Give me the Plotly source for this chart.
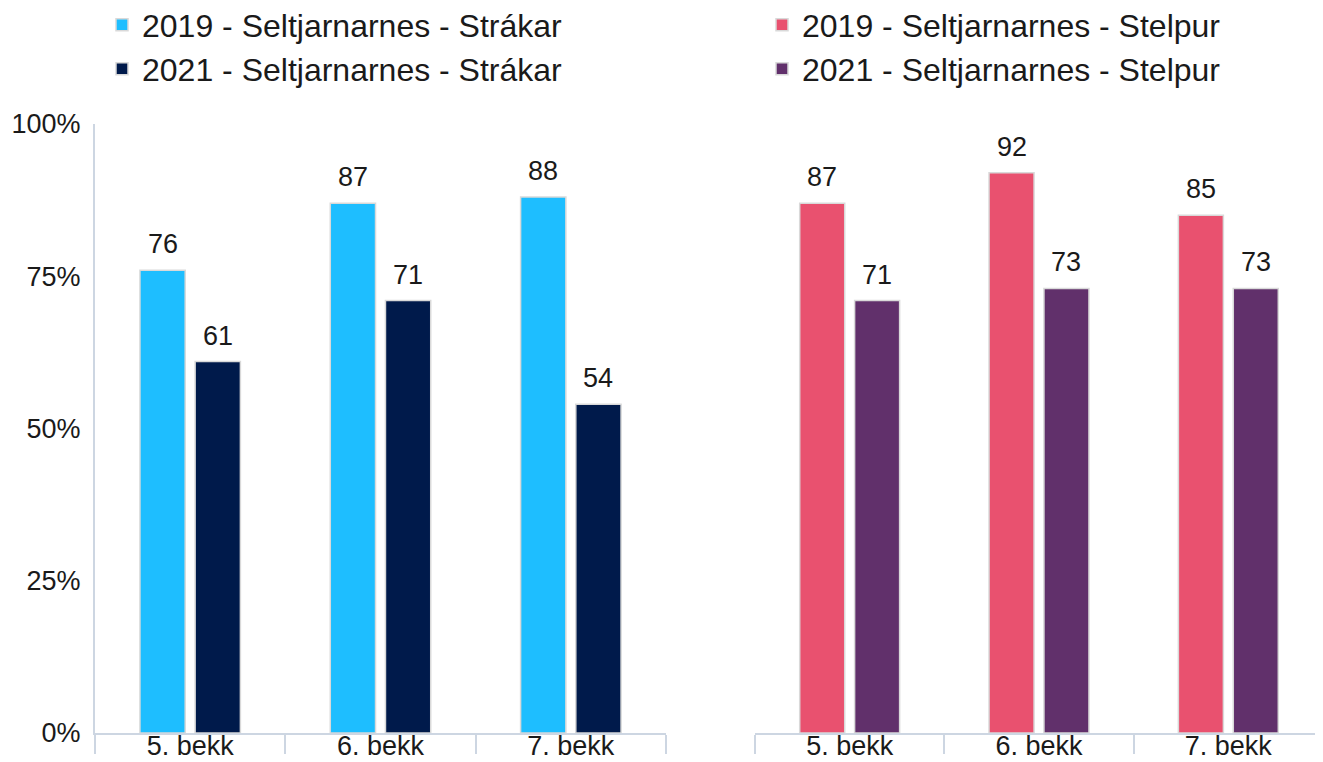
import plotly.graph_objects as go

categories = ["5. bekk", "6. bekk", "7. bekk"]
boys_2019 = [76, 87, 88]
boys_2021 = [61, 71, 54]
girls_2019 = [87, 92, 85]
girls_2021 = [71, 73, 73]
y_ticks = [0, 25, 50, 75, 100]
y_tick_labels = ["0%", "25%", "50%", "75%", "100%"]

names = [
    "2019 - Seltjarnarnes - Strákar",
    "2021 - Seltjarnarnes - Strákar",
    "2019 - Seltjarnarnes - Stelpur",
    "2021 - Seltjarnarnes - Stelpur",
]
colors = ["#1ebeff", "#001a4b", "#e9516f", "#61306b"]

FONT = "Liberation Sans, Arial, sans-serif"
OFF = 8  # page body margin
W, H = 1323 - OFF, 762 - OFF
AXIS_COL = "#cdd6e2"
BARGAP, GROUPGAP = 0.42, 0.18

fig = go.Figure()

# page pixel geometry -> paper fractions
def px_x(p):
    return (p - OFF) / W

plot_top, plot_bot = 124 - OFF, 733 - OFF
def px_y(p):
    return (plot_bot - (p - OFF)) / (plot_bot - plot_top)

left_dom = [px_x(95), px_x(666)]
right_dom = [px_x(755), 1.0]

series = [
    (boys_2019, "x", "y", "legend", left_dom, -1),
    (boys_2021, "x", "y", "legend2", left_dom, 1),
    (girls_2019, "x2", "y2", "legend3", right_dom, -1),
    (girls_2021, "x2", "y2", "legend4", right_dom, 1),
]
annotations = []
for (vals, xa, ya, lg, dom, side), name, col in zip(series, names, colors):
    fig.add_trace(go.Bar(
        x=categories, y=vals, name=name, xaxis=xa, yaxis=ya, legend=lg,
        marker=dict(color=col, line=dict(color="#d9d9d9", width=1.5)),
        hoverinfo="x+y+name",
    ))
    # offset of this series' bar centre from the category centre, in px
    cat_w = (dom[1] - dom[0]) * W / len(categories)
    shift = side * cat_w * (1 - BARGAP) / 4
    for c, v in zip(categories, vals):
        annotations.append(dict(
            x=c, y=v, xref=xa, yref=ya, text=str(v), showarrow=False,
            xanchor="center", yanchor="bottom", xshift=shift, yshift=9,
            font=dict(family=FONT, size=27, color="#1a1a1a"),
        ))

xaxis_common = dict(
    type="category", range=[-0.5, 2.5], showline=True, linecolor=AXIS_COL, linewidth=2,
    ticks="outside", tickson="boundaries", ticklen=19, tickcolor=AXIS_COL, tickwidth=2,
    tickfont=dict(family=FONT, size=27, color="#1a1a1a"), ticklabelstandoff=-12,
    showgrid=False, zeroline=False, fixedrange=True,
)
fig.update_layout(
    width=W, height=H,
    margin=dict(l=0, r=0, t=plot_top, b=H - plot_bot, autoexpand=False),
    paper_bgcolor="white", plot_bgcolor="white",
    barmode="group", bargap=BARGAP, bargroupgap=GROUPGAP,
    font=dict(family=FONT, size=27, color="#1a1a1a"),
    xaxis=dict(domain=left_dom, **xaxis_common),
    xaxis2=dict(domain=right_dom, anchor="y2", **xaxis_common),
    yaxis=dict(
        range=[0, 100], tickvals=y_ticks, ticktext=y_tick_labels,
        showline=True, linecolor=AXIS_COL, linewidth=2, ticks="",
        showgrid=False, zeroline=False, ticklabelstandoff=7,
        tickfont=dict(family=FONT, size=27, color="#1a1a1a"), fixedrange=True,
    ),
    yaxis2=dict(
        range=[0, 100], anchor="x2", showticklabels=False, showline=False,
        showgrid=False, zeroline=False, ticks="", fixedrange=True,
    ),
    annotations=annotations,
    showlegend=True,
)

legend_common = dict(
    font=dict(family=FONT, size=32, color="#1a1a1a"),
    bgcolor="rgba(0,0,0,0)", xanchor="left", yanchor="middle",
    orientation="v",
)
fig.update_layout(
    legend=dict(x=px_x(102), y=px_y(25), **legend_common),
    legend2=dict(x=px_x(102), y=px_y(69), **legend_common),
    legend3=dict(x=px_x(762), y=px_y(25), **legend_common),
    legend4=dict(x=px_x(762), y=px_y(69), **legend_common),
)

fig.write_html("out.html")
